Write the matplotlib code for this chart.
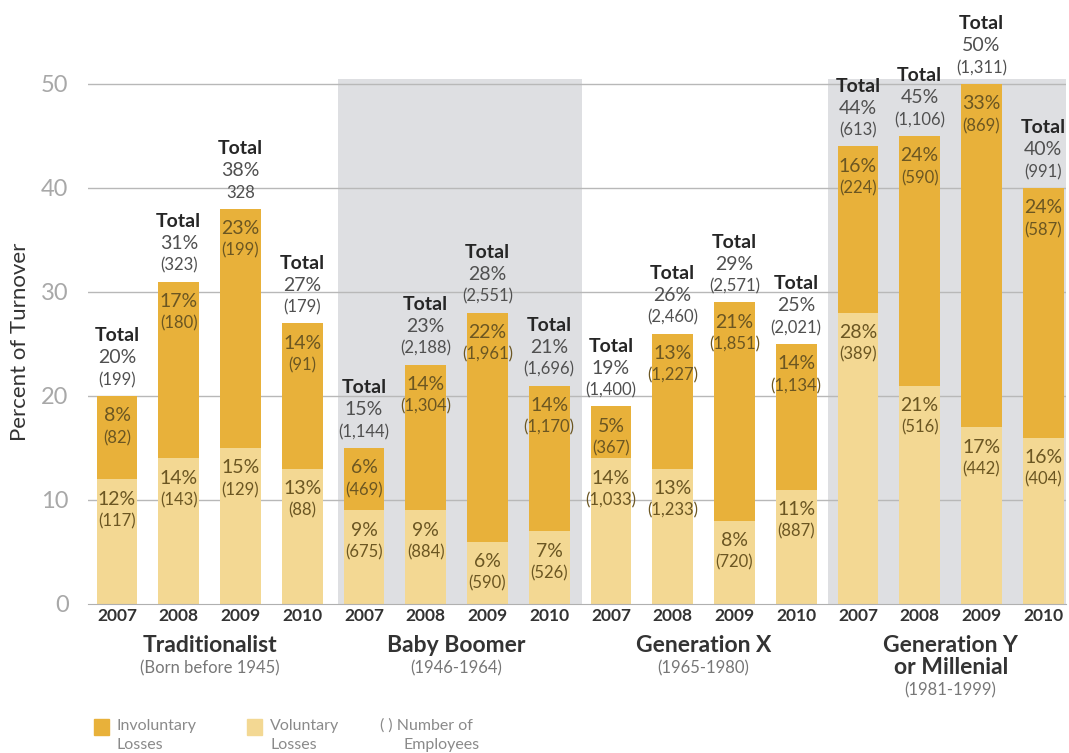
import numpy as np
import matplotlib.pyplot as plt
from matplotlib.patches import Rectangle

plt.rcParams['font.family'] = ['Lato', 'DejaVu Sans']

# Turnover by generation and year
years = ["2007", "2008", "2009", "2010"] * 4
generations = ["Traditionalist", "Baby Boomer", "Generation X", "Generation Y\nor Millenial"]
gen_years = ["(Born before 1945)", "(1946-1964)", "(1965-1980)", "(1981-1999)"]

voluntary = [12, 14, 15, 13, 9, 9, 6, 7, 14, 13, 8, 11, 28, 21, 17, 16]
involuntary = [8, 17, 23, 14, 6, 14, 22, 14, 5, 13, 21, 14, 16, 24, 33, 24]
total = [20, 31, 38, 27, 15, 23, 28, 21, 19, 26, 29, 25, 44, 45, 50, 40]

voluntary_n = ["(117)", "(143)", "(129)", "(88)", "(675)", "(884)", "(590)", "(526)",
               "(1,033)", "(1,233)", "(720)", "(887)", "(389)", "(516)", "(442)", "(404)"]
involuntary_n = ["(82)", "(180)", "(199)", "(91)", "(469)", "(1,304)", "(1,961)", "(1,170)",
                 "(367)", "(1,227)", "(1,851)", "(1,134)", "(224)", "(590)", "(869)", "(587)"]
total_n = ["(199)", "(323)", "328", "(179)", "(1,144)", "(2,188)", "(2,551)", "(1,696)",
           "(1,400)", "(2,460)", "(2,571)", "(2,021)", "(613)", "(1,106)", "(1,311)", "(991)"]

invol_color = "#E8B13A"
vol_color = "#F3D893"
band_color = "#DEDFE2"
inner_text = "#6B5622"

W, H = 1069, 753
fig = plt.figure(figsize=(W / 100, H / 100), dpi=100)
ax = fig.add_axes([88 / W, 1 - 604 / H, 978 / W, 50.5 * 10.4 / H])

x = np.arange(len(years))
ax.set_xlim(-0.47, 15.37)
ax.set_ylim(0, 50.5)

# shaded bands behind Baby Boomer and Generation Y
ax.axvspan(3.58, 7.53, color=band_color, zorder=0, lw=0)
ax.axvspan(11.51, 15.37, color=band_color, zorder=0, lw=0)

for yv in range(10, 51, 10):
    ax.axhline(yv, color="#B8B8B8", lw=1, zorder=1)

w = 0.66
ax.bar(x, voluntary, w, color=vol_color, zorder=2)
ax.bar(x, involuntary, w, bottom=voluntary, color=invol_color, zorder=2)

pt = 72 / 100  # pixels to points


def label(xv, yv, text, dy, size, color, weight="normal"):
    ax.annotate(text, (xv, yv), xytext=(0, dy * pt), textcoords="offset points",
                ha="center", va="center", fontsize=size, color=color,
                fontweight=weight, zorder=3, annotation_clip=False)


for i in x:
    top = total[i]
    vt = voluntary[i]
    # involuntary segment
    label(i, top, f"{involuntary[i]}%", -20, 14, inner_text)
    label(i, top, involuntary_n[i], -42, 12, inner_text)
    # voluntary segment
    label(i, vt, f"{vt}%", -20, 14, inner_text)
    label(i, vt, voluntary_n[i], -42, 12, inner_text)
    # totals above each bar
    label(i, top, total_n[i], 16, 12, "#505050")
    label(i, top, f"{top}%", 38, 14, "#505050")
    label(i, top, "Total", 60, 14, "#262626", "bold")

ax.set_yticks(range(0, 51, 10))
ax.set_yticklabels([str(v) for v in range(0, 51, 10)], fontsize=17, color="#A8A8A8")
ax.tick_params(axis="y", length=0, pad=14)
ax.set_xticks(x)
ax.set_xticklabels(years, fontsize=12.5, fontweight="bold", color="#333333")
ax.tick_params(axis="x", length=0, pad=3)
ax.set_ylabel("Percent of Turnover", fontsize=16, color="#333333", labelpad=8)

for s in ["top", "right", "left"]:
    ax.spines[s].set_visible(False)
ax.spines["bottom"].set_color("#B0B0B0")

# generation names under each group of years
for g in range(4):
    cx = g * 4 + 1.5
    fx = (88 + (cx + 0.47) * 61.75) / W
    name_lines = generations[g].split("\n")
    for k, line in enumerate(name_lines):
        fig.text(fx, 1 - (645 + 22 * k) / H, line, ha="center", va="center",
                 fontsize=16.5, fontweight="bold", color="#333333")
    fig.text(fx, 1 - (668 + 22 * (len(name_lines) - 1)) / H, gen_years[g], ha="center",
             va="center", fontsize=12, color="#777777")

# legend
fig.patches.append(Rectangle((94 / W, 1 - 735 / H), 15 / W, 16 / H,
                             transform=fig.transFigure, color=invol_color))
fig.patches.append(Rectangle((247 / W, 1 - 735 / H), 15 / W, 16 / H,
                             transform=fig.transFigure, color=vol_color))
legend_color = "#8A8A8A"
for lx, top_line, bottom_line in [(116, "Involuntary", "Losses"), (270, "Voluntary", "Losses")]:
    fig.text(lx / W, 1 - 726 / H, top_line, fontsize=11.5, color=legend_color,
             va="center", ha="left")
    fig.text(lx / W, 1 - 745 / H, bottom_line, fontsize=11.5, color=legend_color,
             va="center", ha="left")
fig.text(380 / W, 1 - 726 / H, "( ) Number of", fontsize=11.5, color=legend_color,
         va="center", ha="left")
fig.text(442 / W, 1 - 745 / H, "Employees", fontsize=11.5, color=legend_color,
         va="center", ha="center")

fig.savefig("out.png", dpi=100, facecolor="white")
